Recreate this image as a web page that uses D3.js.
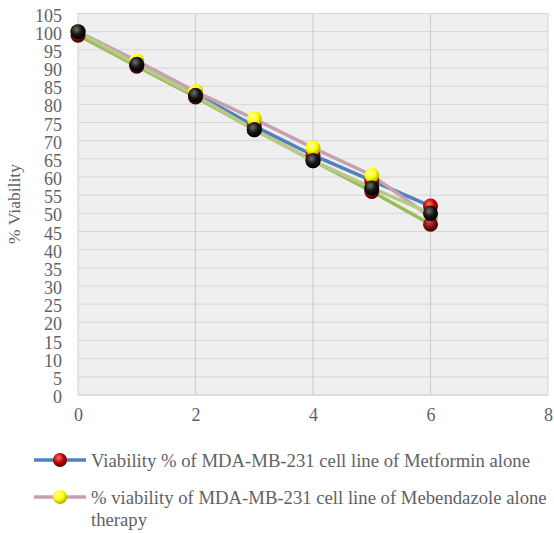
<!DOCTYPE html>
<html><head><meta charset="utf-8">
<script src="https://cdn.jsdelivr.net/npm/d3@7"></script>
<style>body{margin:0;background:#fff}svg{display:block}</style>
</head><body>
<svg id="c" width="554" height="533"></svg>
<script>
const xValues = [0, 1, 2, 3, 4, 5, 6];
const metformin = [100, 91, 83, 74, 66, 59, 52];
const mebendazole = [100, 92, 83.5, 76, 68, 60.5, 49];
const seriesC = [99, 90.5, 82, 73, 64.5, 56, 47];
const seriesD = [100, 91, 82.5, 73, 64.5, 57, 50];
const yTicks = d3.range(0, 106, 5);
const xTicks = [0, 2, 4, 6, 8];
const legendLabels = ["Viability % of MDA-MB-231 cell line of Metformin alone",
  ["% viability of MDA-MB-231 cell line of Mebendazole alone", "therapy"]];
const yTitle = "% Viability";

const FONT = "'Liberation Serif', 'Times New Roman', Times, 'DejaVu Serif', serif";
const TXT = "#626262";
const svg = d3.select("#c");
const x = d3.scaleLinear().domain([0, 8]).range([78, 548]);
const y = d3.scaleLinear().domain([0, 105]).range([395, 13.5]);

const defs = svg.append("defs");
function grad(id, c0, c1, c2) {
  const g = defs.append("radialGradient").attr("id", id).attr("cx", "40%").attr("cy", "35%").attr("r", "65%");
  g.append("stop").attr("offset", "0%").attr("stop-color", c0);
  g.append("stop").attr("offset", "55%").attr("stop-color", c1);
  g.append("stop").attr("offset", "100%").attr("stop-color", c2);
}
grad("gRed", "#ff7070", "#c00000", "#5a0000");
grad("gYel", "#ffffb0", "#ffff00", "#b0a800");
grad("gDR", "#c05050", "#8a1010", "#3a0000");
grad("gBlk", "#707070", "#151515", "#000000");

svg.append("rect").attr("x", x(0)).attr("y", y(105)).attr("width", x(8) - x(0)).attr("height", y(0) - y(105))
  .attr("fill", "#efefef").attr("stroke", "#d4d4d4");

svg.append("g").selectAll("line").data(yTicks).join("line")
  .attr("x1", x(0)).attr("x2", x(8)).attr("y1", d => y(d)).attr("y2", d => y(d))
  .attr("stroke", "#d6d6d6").attr("stroke-width", 1);
svg.append("g").selectAll("line").data(xTicks.slice(1, -1)).join("line")
  .attr("y1", y(0)).attr("y2", y(105)).attr("x1", d => x(d)).attr("x2", d => x(d))
  .attr("stroke", "#cfcfcf").attr("stroke-width", 1.2);

const yAxis = svg.append("g").attr("transform", `translate(${x(0)},0)`)
  .call(d3.axisLeft(y).tickValues(yTicks).tickSize(0).tickPadding(16));
yAxis.attr("font-family", null).attr("font-size", null);
yAxis.select(".domain").remove();
yAxis.selectAll("text").attr("font-size", 18).attr("dy", "0.42em").attr("font-family", FONT).attr("fill", TXT);
const xAxis = svg.append("g").attr("transform", `translate(0,${y(0)})`)
  .call(d3.axisBottom(x).tickValues(xTicks).tickSize(0).tickPadding(13));
xAxis.attr("font-family", null).attr("font-size", null);
xAxis.select(".domain").remove();
xAxis.selectAll("text").attr("font-size", 18).attr("font-family", FONT).attr("fill", TXT);

svg.append("text").attr("transform", "translate(20,204) rotate(-90)").attr("text-anchor", "middle")
  .attr("font-family", FONT).attr("fill", TXT).attr("font-size", 17.5).text(yTitle);

const series = [
  {v: metformin, line: "#4f81bd", fill: "url(#gRed)"},
  {v: mebendazole, line: "#c8a0b4", fill: "url(#gYel)"},
  {v: seriesC, line: "#9bbb59", fill: "url(#gDR)"},
  {v: seriesD, line: "#b9c98a", fill: "url(#gBlk)"}
];
const lineGen = d3.line().x((d, i) => x(xValues[i])).y(d => y(d));
series.forEach(s => {
  svg.append("path").attr("d", lineGen(s.v)).attr("fill", "none").attr("stroke", s.line).attr("stroke-width", 3.5);
});
series.forEach(s => {
  svg.append("g").selectAll("circle").data(s.v).join("circle")
    .attr("cx", (d, i) => x(xValues[i])).attr("cy", d => y(d)).attr("r", 7.5).attr("fill", s.fill);
});

const leg = [{y: 460, line: "#4f81bd", fill: "url(#gRed)", lines: [legendLabels[0]]},
             {y: 497, line: "#c8a0b4", fill: "url(#gYel)", lines: legendLabels[1]}];
leg.forEach(l => {
  svg.append("line").attr("x1", 34).attr("x2", 86).attr("y1", l.y).attr("y2", l.y).attr("stroke", l.line).attr("stroke-width", 3.5);
  svg.append("circle").attr("cx", 60).attr("cy", l.y).attr("r", 7).attr("fill", l.fill);
  l.lines.forEach((t, i) => {
    svg.append("text").attr("x", 91).attr("y", l.y + i * 22).attr("dy", "0.35em")
      .attr("font-family", FONT).attr("fill", TXT).attr("font-size", 18.7).text(t);
  });
});
</script>
</body></html>
